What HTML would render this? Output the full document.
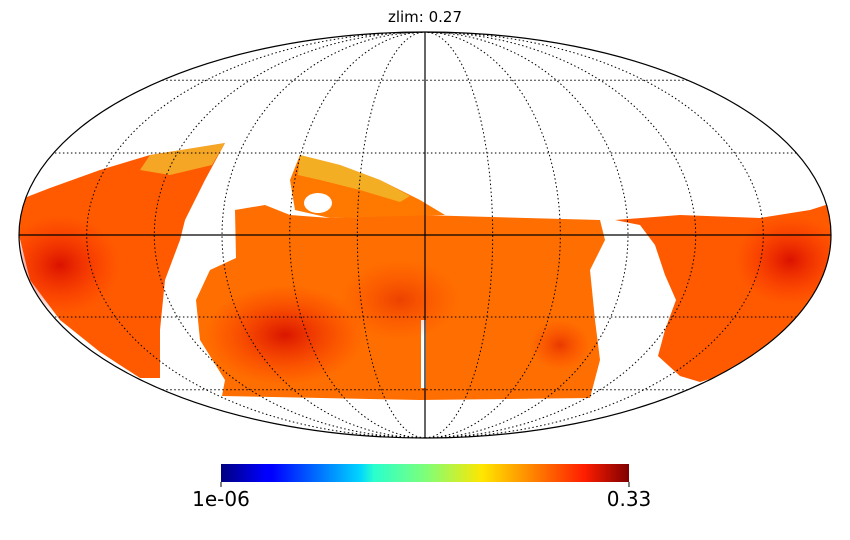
<!DOCTYPE html>
<html><head><meta charset="utf-8"><style>
body{margin:0;background:#fff;}
svg{display:block;font-family:"DejaVu Sans","Liberation Sans",sans-serif;}
</style></head><body>
<svg id="map" width="850" height="540" viewBox="0 0 850 540">
<defs>
<clipPath id="ell"><ellipse cx="425" cy="235" rx="406" ry="203"/></clipPath>
<linearGradient id="jet" x1="0" x2="1" y1="0" y2="0">
<stop offset="0" stop-color="#00007f"/><stop offset="0.11" stop-color="#0000ff"/>
<stop offset="0.125" stop-color="#0000ff"/><stop offset="0.34" stop-color="#00d4ff"/>
<stop offset="0.375" stop-color="#29ffce"/><stop offset="0.5" stop-color="#7dff7a"/>
<stop offset="0.64" stop-color="#ffe600"/><stop offset="0.66" stop-color="#ffd700"/>
<stop offset="0.89" stop-color="#ff1e00"/><stop offset="1" stop-color="#7f0000"/>
</linearGradient>
<radialGradient id="red1"><stop offset="0" stop-color="#d00000" stop-opacity="0.8"/><stop offset="1" stop-color="#ff2000" stop-opacity="0"/></radialGradient>
</defs>
<text x="425" y="22" text-anchor="middle" font-size="15" fill="#000">zlim: 0.27</text>
<g clip-path="url(#ell)">
<polygon fill="#ff5a00" points="19,200 50,188 100,170 150,155 225,143 205,180 185,220 180,240 165,280 160,330 160,378 140,378 100,352 60,320 30,280 19,235"/>
<polygon fill="#ff6e00" points="235,210 265,205 290,215 330,218 420,215 600,220 605,240 590,270 595,320 600,360 590,398 420,400 222,396 225,380 200,340 196,300 210,270 236,258"/>
<polygon fill="#ff7800" points="300,155 340,165 380,180 420,200 445,215 330,218 295,210 290,180"/>
<polygon fill="#ff5a00" points="615,220 680,215 760,218 810,210 829,204 832,235 825,275 790,330 740,370 700,382 680,376 658,356 665,330 676,300 665,275 655,245 640,225"/>
<polygon fill="#fff" points="421,320 426,320 426,388 421,388"/>
<ellipse cx="318" cy="203" rx="14" ry="10" fill="#fff"/>
<ellipse cx="60" cy="265" rx="60" ry="50" fill="url(#red1)"/>
<ellipse cx="285" cy="335" rx="80" ry="50" fill="url(#red1)"/>
<ellipse cx="790" cy="260" rx="55" ry="45" fill="url(#red1)"/>
<ellipse cx="400" cy="300" rx="60" ry="40" fill="url(#red1)" opacity="0.5"/>
<ellipse cx="560" cy="345" rx="30" ry="25" fill="url(#red1)" opacity="0.6"/>
<polygon fill="#f0c030" opacity="0.75" points="150,155 225,143 212,165 170,175 140,170"/>
<polygon fill="#f0c030" opacity="0.75" points="300,155 340,165 380,180 410,196 400,202 360,190 320,180 298,175"/>
</g>
<g id="grid"></g>
<ellipse cx="425" cy="235" rx="406" ry="203" fill="none" stroke="#000" stroke-width="1.2"/>
<line x1="19" y1="235" x2="831" y2="235" stroke="#000" stroke-width="1.2"/>
<line x1="425" y1="32" x2="425" y2="438" stroke="#000" stroke-width="1.2"/>
<rect x="221" y="464" width="408" height="18" fill="url(#jet)"/>
<line x1="221" y1="482" x2="221" y2="487" stroke="#000"/><line x1="629" y1="482" x2="629" y2="487" stroke="#000"/>
<text x="221" y="506" text-anchor="middle" font-size="20">1e-06</text>
<text x="629" y="506" text-anchor="middle" font-size="20">0.33</text>
</svg>
<script>
const lats=[-60,-30,30,60];
const lons=[-150,-120,-90,-60,-30,30,60,90,120,150];
const cx=425,cy=235,RX=406,RY=203,NS="http://www.w3.org/2000/svg";
function theta(phi){let t=phi;for(let i=0;i<50;i++){const f=2*t+Math.sin(2*t)-Math.PI*Math.sin(phi);t-=f/(2+2*Math.cos(2*t)+1e-12);}return t;}
function proj(lon,lat){const t=theta(lat*Math.PI/180);return [cx-RX*(lon/180)*Math.cos(t),cy-RY*Math.sin(t)];}
const g=document.getElementById('grid');
lats.forEach(la=>{const a=proj(-180,la),b=proj(180,la);
const l=document.createElementNS(NS,'line');


l.setAttribute('x1',a[0]);l.setAttribute('x2',b[0]);l.setAttribute('y1',a[1]);l.setAttribute('y2',a[1]);
l.setAttribute('stroke','#000');l.setAttribute('stroke-dasharray','1.5,2.5');g.appendChild(l);});
lons.forEach(lo=>{let d='';for(let la=-90;la<=90;la+=2){const p=proj(lo,la);d+=(la==-90?'M':'L')+p[0].toFixed(1)+','+p[1].toFixed(1);}
const p=document.createElementNS(NS,'path');


p.setAttribute('d',d);p.setAttribute('fill','none');p.setAttribute('stroke','#000');p.setAttribute('stroke-dasharray','1.5,2.5');g.appendChild(p);});
</script>
</body></html>
